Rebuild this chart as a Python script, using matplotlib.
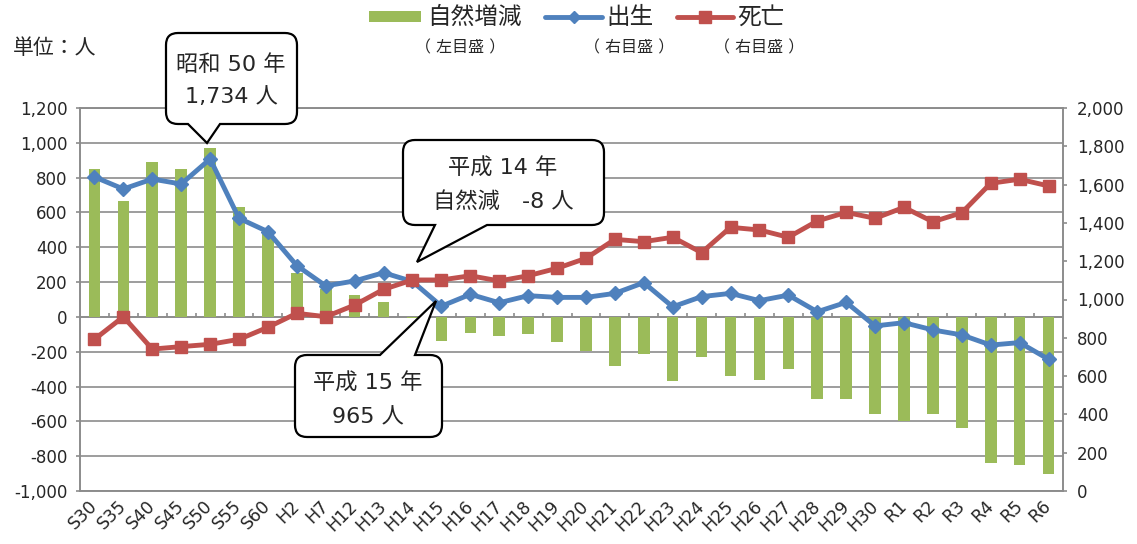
import numpy as np
import matplotlib
matplotlib.use("Agg")
import matplotlib.pyplot as plt
from matplotlib.path import Path
from matplotlib.patches import PathPatch, Rectangle
from matplotlib.lines import Line2D

# DejaVu gives the wide digits, Noto CJK covers the Japanese glyphs
plt.rcParams["font.family"] = ["DejaVu Sans", "Noto Sans CJK JP"]

# data
years = ["S30", "S35", "S40", "S45", "S50", "S55", "S60", "H2", "H7", "H12",
         "H13", "H14", "H15", "H16", "H17", "H18", "H19", "H20", "H21", "H22",
         "H23", "H24", "H25", "H26", "H27", "H28", "H29", "H30",
         "R1", "R2", "R3", "R4", "R5", "R6"]
natural = [848, 668, 890, 850, 968, 632, 495, 250, 160, 126,
           85, -8, -137, -95, -110, -98, -145, -198, -280, -212,
           -368, -232, -342, -365, -300, -470, -470, -557,
           -598, -560, -637, -842, -848, -900]
births = [1640, 1577, 1629, 1603, 1734, 1424, 1354, 1177, 1071, 1097,
          1140, 1094, 965, 1027, 983, 1020, 1011, 1011, 1032, 1088,
          962, 1015, 1032, 994, 1023, 936, 985, 862,
          879, 841, 815, 762, 775, 688]
deaths = [792, 910, 741, 754, 766, 792, 855, 928, 910, 971,
          1053, 1102, 1102, 1124, 1097, 1124, 1163, 1215, 1314, 1302,
          1325, 1245, 1377, 1363, 1325, 1410, 1455, 1424,
          1481, 1406, 1453, 1607, 1628, 1593]

left_ticks = list(range(-1000, 1201, 200))
right_ticks = list(range(0, 2001, 200))

GREEN = "#9BBB59"
BLUE = "#4F81BD"
RED = "#C0504D"
GRID = "#8c8c8c"
TXT = "#262626"

W, H = 1137, 544


def fx(x):
    return x / W


def fy(y):
    return 1 - y / H


def callout(fig, box, tail, side, r=12):
    """Rounded speech bubble, pixel coords (y down), tail on top or bottom edge."""
    x0, y0, x1, y1 = box
    ba, bb, tip = tail
    L, C = Path.LINETO, Path.CURVE3
    verts = [(x0 + r, y0)]
    codes = [Path.MOVETO]
    if side == "top":
        verts += [(ba, y0), tip, (bb, y0)]
        codes += [L, L, L]
    verts += [(x1 - r, y0), (x1, y0), (x1, y0 + r),
              (x1, y1 - r), (x1, y1), (x1 - r, y1)]
    codes += [L, C, C, L, C, C]
    if side == "bottom":
        verts += [(bb, y1), tip, (ba, y1)]
        codes += [L, L, L]
    verts += [(x0 + r, y1), (x0, y1), (x0, y1 - r),
              (x0, y0 + r), (x0, y0), (x0 + r, y0), (0, 0)]
    codes += [L, C, C, L, C, C, Path.CLOSEPOLY]
    verts = [(fx(x), fy(y)) for x, y in verts]
    patch = PathPatch(Path(verts, codes), facecolor="white", edgecolor="black",
                      lw=1.6, transform=fig.transFigure, zorder=5)
    fig.add_artist(patch)


fig = plt.figure(figsize=(W / 100, H / 100), dpi=100)
ax = fig.add_axes([fx(80), fy(491), fx(1063) - fx(80), fy(108) - fy(491)])
ax2 = ax.twinx()

x = np.arange(len(years))

# bars: natural increase (left axis)
ax.bar(x, natural, width=0.4, color=GREEN, zorder=2)
ax.set_xlim(-0.5, len(years) - 0.5)
ax.set_ylim(-1000, 1200)
ax.set_yticks(left_ticks)
ax.set_yticklabels([f"{v:,}" for v in left_ticks])
ax.yaxis.grid(True, color=GRID, lw=1.2)
ax.set_axisbelow(True)
ax.axhline(0, color=GRID, lw=1.2, zorder=1.5)
ax.vlines(x[:-1] + 0.5, 0, 24, color=GRID, lw=1.2, zorder=1.5)

ax.set_xticks(x)
ax.set_xticklabels(years, rotation=45, ha="right", va="center",
                   rotation_mode="anchor", fontsize=12.5, color=TXT)
ax.tick_params(axis="x", length=0, pad=9)
ax.tick_params(axis="y", length=3, width=1.2, color=GRID, pad=6,
               labelsize=12, labelcolor=TXT)

# lines: births and deaths (right axis)
ax2.plot(x, births, color=BLUE, lw=3.5, marker="D", ms=7.5, mec=BLUE, zorder=3)
ax2.plot(x, deaths, color=RED, lw=3.5, marker="s", ms=9, mec=RED, zorder=4)
ax2.set_ylim(0, 2000)
ax2.set_yticks(right_ticks)
ax2.set_yticklabels([f"{v:,}" for v in right_ticks])
ax2.tick_params(axis="y", length=3, width=1.2, color=GRID, pad=7,
                labelsize=12, labelcolor=TXT)

for a in (ax, ax2):
    for s in a.spines.values():
        s.set_color(GRID)
        s.set_linewidth(1.2)

# legend drawn by hand in figure coordinates
fig.add_artist(Rectangle((fx(369), fy(22)), fx(421) - fx(369), fy(11) - fy(22),
                         facecolor=GREEN, transform=fig.transFigure))
fig.text(fx(427), fy(17), "自然増減", fontsize=17, color=TXT, va="center")
fig.add_artist(Line2D([fx(545), fx(602)], [fy(17), fy(17)], color=BLUE, lw=3.5,
                      solid_capstyle="round", transform=fig.transFigure))
fig.add_artist(Line2D([fx(574)], [fy(17)], color=BLUE, marker="D", ms=6.5,
                      transform=fig.transFigure))
fig.text(fx(606), fy(17), "出生", fontsize=17, color=TXT, va="center")
fig.add_artist(Line2D([fx(677), fx(733)], [fy(17), fy(17)], color=RED, lw=3.5,
                      solid_capstyle="round", transform=fig.transFigure))
fig.add_artist(Line2D([fx(705)], [fy(17)], color=RED, marker="s", ms=9,
                      transform=fig.transFigure))
fig.text(fx(737), fy(17), "死亡", fontsize=17, color=TXT, va="center")
for cx, lab in [(460, "（ 左目盛 ）"), (629, "（ 右目盛 ）"), (759, "（ 右目盛 ）")]:
    fig.text(fx(cx), fy(48), lab, fontsize=11.5, color=TXT, ha="center", va="center")

fig.text(fx(13), fy(48), "単位：人", fontsize=15, color=TXT, va="center")

# callouts
callout(fig, (166, 33, 297, 124), (188, 220, (207, 143)), "bottom")
fig.text(fx(231), fy(65), "昭和 50 年", fontsize=16, color=TXT, ha="center", va="center", zorder=6)
fig.text(fx(231), fy(97), "1,734 人", fontsize=16, color=TXT, ha="center", va="center", zorder=6)

callout(fig, (403, 140, 604, 225), (435, 487, (417, 262)), "bottom")
fig.text(fx(503), fy(168), "平成 14 年", fontsize=16, color=TXT, ha="center", va="center", zorder=6)
fig.text(fx(503), fy(202), "自然減　-8 人", fontsize=16, color=TXT, ha="center", va="center", zorder=6)

callout(fig, (295, 355, 442, 437), (380, 415, (436, 301)), "top")
fig.text(fx(368), fy(383), "平成 15 年", fontsize=16, color=TXT, ha="center", va="center", zorder=6)
fig.text(fx(368), fy(417), "965 人", fontsize=16, color=TXT, ha="center", va="center", zorder=6)

fig.savefig("out.png", dpi=100)
